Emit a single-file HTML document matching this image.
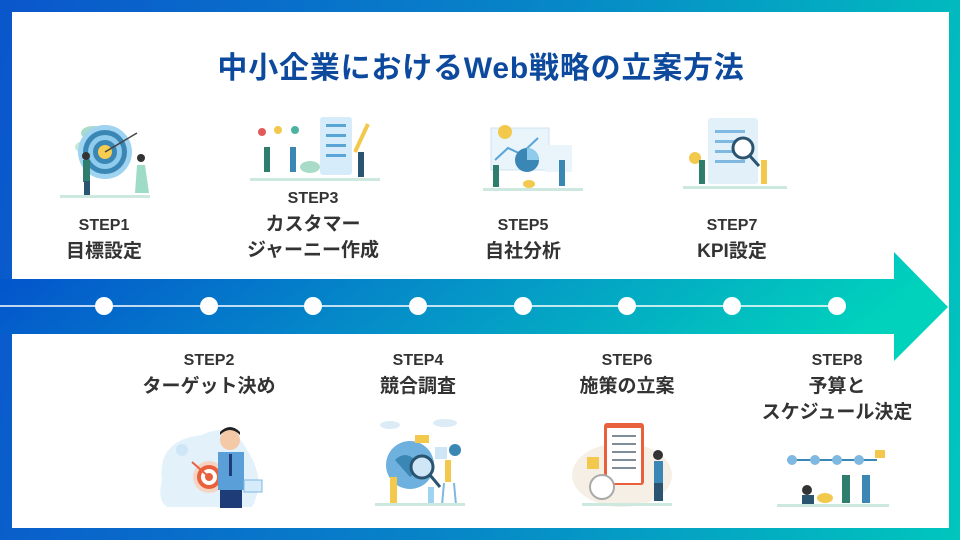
<!DOCTYPE html>
<html><head><meta charset="utf-8"><style>
*{margin:0;padding:0;box-sizing:border-box}
body{width:960px;height:540px;overflow:hidden;position:relative;font-family:"Liberation Sans","Noto Sans CJK JP",sans-serif;background:linear-gradient(100deg,#0a56cc 0%,#0784c8 50%,#00c6bd 100%)}
.panel{position:absolute;left:12px;top:12px;width:937px;height:516px;background:#fff}
h1{position:absolute;left:0;width:962px;top:43px;text-align:center;font-size:30px;font-weight:bold;color:#0d4a9e;letter-spacing:0.8px}
.lbl{position:absolute;width:220px;margin-left:-110px;text-align:center;color:#333;font-weight:bold}
.s{font-size:16px;line-height:27px;height:27px}
.j{font-size:19px;line-height:26px;height:26px}
svg.il{position:absolute}
</style></head><body>
<div class="panel"></div>
<h1>中小企業におけるWeb戦略の立案方法</h1>
<svg style="position:absolute;left:0;top:0" width="960" height="540">
<defs><linearGradient id="g" x1="0" y1="0" x2="1" y2="0.15"><stop offset="0" stop-color="#0350cc"/><stop offset="0.5" stop-color="#0590c8"/><stop offset="1" stop-color="#00d2bc"/></linearGradient></defs>
<path d="M0 279 H894 V252 L948 307 L894 361 V334 H0 Z" fill="url(#g)"/>
<line x1="0" y1="306" x2="836" y2="306" stroke="#fff" stroke-width="1.5"/>
<g fill="#fff"><circle cx="104" cy="306" r="9"/><circle cx="209" cy="306" r="9"/><circle cx="313" cy="306" r="9"/><circle cx="418" cy="306" r="9"/><circle cx="523" cy="306" r="9"/><circle cx="627" cy="306" r="9"/><circle cx="732" cy="306" r="9"/><circle cx="837" cy="306" r="9"/></g>
</svg>

<div class="lbl" style="left:104px;top:212px"><div class="s">STEP1</div><div class="j">目標設定</div></div>
<div class="lbl" style="left:313px;top:185px"><div class="s">STEP3</div><div class="j">カスタマー</div><div class="j">ジャーニー作成</div></div>
<div class="lbl" style="left:523px;top:212px"><div class="s">STEP5</div><div class="j">自社分析</div></div>
<div class="lbl" style="left:732px;top:212px"><div class="s">STEP7</div><div class="j">KPI設定</div></div>
<div class="lbl" style="left:209px;top:347px"><div class="s">STEP2</div><div class="j">ターゲット決め</div></div>
<div class="lbl" style="left:418px;top:347px"><div class="s">STEP4</div><div class="j">競合調査</div></div>
<div class="lbl" style="left:627px;top:347px"><div class="s">STEP6</div><div class="j">施策の立案</div></div>
<div class="lbl" style="left:837px;top:347px"><div class="s">STEP8</div><div class="j">予算と</div><div class="j">スケジュール決定</div></div>

<svg class="il" style="left:55px;top:115px" width="100" height="85">
<ellipse cx="38" cy="18" rx="12" ry="7" fill="#a8dcc8"/><ellipse cx="30" cy="32" rx="10" ry="6" fill="#c4e8d8"/>
<circle cx="50" cy="37" r="27" fill="#9fd3f2"/><circle cx="50" cy="37" r="22" fill="#3a86b5"/><circle cx="50" cy="37" r="17" fill="#8fcbec"/><circle cx="50" cy="37" r="12" fill="#3a86b5"/><circle cx="50" cy="37" r="7" fill="#f7cd50"/>
<line x1="50" y1="37" x2="82" y2="18" stroke="#444" stroke-width="1.5"/>
<rect x="28" y="45" width="7" height="22" fill="#2e7d6d"/><rect x="29" y="66" width="6" height="16" fill="#2a5470"/><circle cx="31" cy="41" r="4" fill="#333"/>
<path d="M82 50 L90 50 L94 78 L80 78 Z" fill="#9fdcc8"/><circle cx="86" cy="43" r="4" fill="#333"/>
<rect x="5" y="80" width="90" height="3" fill="#cde9df"/>
</svg>
<svg class="il" style="left:250px;top:112px" width="135" height="75">
<circle cx="12" cy="20" r="4" fill="#e35a5a"/><circle cx="28" cy="18" r="4" fill="#f2c94c"/><circle cx="45" cy="18" r="4" fill="#4bb3a0"/>
<rect x="70" y="5" width="32" height="58" rx="3" fill="#d6ecfa"/>
<g fill="#5aa5d8"><rect x="76" y="12" width="20" height="3"/><rect x="76" y="22" width="20" height="3"/><rect x="76" y="32" width="20" height="3"/><rect x="76" y="42" width="20" height="3"/></g>
<path d="M105 40 L118 12" stroke="#f2c94c" stroke-width="4"/>
<rect x="14" y="35" width="6" height="25" fill="#2e7d6d"/><rect x="40" y="35" width="6" height="25" fill="#3a86b5"/>
<rect x="108" y="40" width="6" height="25" fill="#2a5470"/>
<ellipse cx="60" cy="55" rx="10" ry="6" fill="#a8dcc8"/>
<rect x="0" y="66" width="130" height="3" fill="#cde9df"/>
</svg>
<svg class="il" style="left:483px;top:110px" width="100" height="84">
<rect x="8" y="18" width="58" height="42" fill="#e9f4fb" stroke="#cfe3f0"/>
<circle cx="22" cy="22" r="7" fill="#f2c94c"/>
<path d="M12 50 L25 38 L38 44 L55 28" stroke="#5aa5d8" stroke-width="2" fill="none"/>
<circle cx="44" cy="50" r="12" fill="#3a86b5"/><path d="M44 50 L44 38 A12 12 0 0 1 56 50 Z" fill="#8fcbec"/>
<rect x="62" y="35" width="27" height="27" fill="#eaf4fb"/>
<rect x="10" y="55" width="6" height="22" fill="#2e7d6d"/><rect x="76" y="50" width="6" height="26" fill="#3a86b5"/>
<ellipse cx="46" cy="74" rx="6" ry="4" fill="#f2c94c"/>
<rect x="0" y="78" width="100" height="3" fill="#cde9df"/>
</svg>
<svg class="il" style="left:683px;top:110px" width="104" height="84">
<rect x="25" y="8" width="50" height="66" rx="3" fill="#e2f0fa"/>
<g fill="#7fb8e0"><rect x="32" y="20" width="30" height="3"/><rect x="32" y="30" width="30" height="3"/><rect x="32" y="40" width="30" height="3"/><rect x="32" y="50" width="30" height="3"/></g>
<circle cx="60" cy="38" r="10" fill="#fff" stroke="#2a5470" stroke-width="3"/><line x1="67" y1="46" x2="76" y2="56" stroke="#2a5470" stroke-width="3"/>
<circle cx="12" cy="48" r="6" fill="#f2c94c"/>
<rect x="16" y="50" width="6" height="24" fill="#2e7d6d"/><rect x="78" y="50" width="6" height="24" fill="#f2c94c"/>
<rect x="0" y="76" width="104" height="3" fill="#cde9df"/>
</svg>
<svg class="il" style="left:152px;top:420px" width="118" height="92">
<path d="M10 60 Q5 20 50 15 Q80 0 95 30 Q115 60 100 87 L15 87 Q5 80 10 60Z" fill="#e3f1fb"/>
<circle cx="57" cy="57" r="16" fill="#f6d4c4"/><circle cx="57" cy="57" r="12" fill="#e8613c"/><circle cx="57" cy="57" r="8" fill="#fff"/><circle cx="57" cy="57" r="4" fill="#e8613c"/>
<line x1="57" y1="57" x2="40" y2="42" stroke="#e8613c" stroke-width="2"/>
<circle cx="78" cy="20" r="10" fill="#f3c9a8"/><path d="M68 15 Q78 5 88 15 L88 12 Q78 2 68 12Z" fill="#222"/>
<rect x="66" y="32" width="26" height="38" fill="#5a9fd8"/><rect x="77" y="34" width="3" height="22" fill="#1d3c78"/>
<rect x="68" y="70" width="22" height="18" fill="#1d3c78"/>
<rect x="92" y="60" width="18" height="12" fill="#d6ecfa" stroke="#7fb8e0"/>
<circle cx="30" cy="30" r="6" fill="#cfe6f7"/>
</svg>
<svg class="il" style="left:370px;top:415px" width="100" height="95">
<ellipse cx="20" cy="10" rx="10" ry="4" fill="#dcecf7"/><ellipse cx="75" cy="8" rx="12" ry="4" fill="#dcecf7"/>
<circle cx="40" cy="50" r="24" fill="#6fb1de"/><path d="M25 45 Q35 35 45 45 Q50 55 40 62Z" fill="#3a86b5"/>
<circle cx="52" cy="52" r="11" fill="#cfe6f7" stroke="#2a5470" stroke-width="3"/><line x1="60" y1="60" x2="70" y2="72" stroke="#2a5470" stroke-width="3"/>
<rect x="45" y="20" width="14" height="8" fill="#f2c94c"/><rect x="65" y="32" width="12" height="12" fill="#cfe6f7"/>
<circle cx="85" cy="35" r="6" fill="#3a86b5"/>
<rect x="20" y="62" width="7" height="28" fill="#f2c94c"/><rect x="75" y="45" width="6" height="22" fill="#f2c94c"/>
<path d="M74 68 L72 90 M84 68 L86 90" stroke="#7fb8e0" stroke-width="2"/>
<rect x="58" y="72" width="6" height="18" fill="#9fd3f2"/>
<rect x="5" y="88" width="90" height="3" fill="#cde9df"/>
</svg>
<svg class="il" style="left:572px;top:415px" width="110" height="95">
<ellipse cx="50" cy="60" rx="50" ry="32" fill="#f6efe6"/>
<rect x="32" y="8" width="40" height="62" rx="3" fill="#e8613c"/><rect x="35" y="13" width="34" height="55" fill="#fff"/>
<g fill="#7f8c99"><rect x="40" y="20" width="24" height="2"/><rect x="40" y="28" width="24" height="2"/><rect x="40" y="36" width="24" height="2"/><rect x="40" y="44" width="24" height="2"/><rect x="40" y="52" width="24" height="2"/></g>
<rect x="15" y="42" width="12" height="12" fill="#f2c94c"/>
<circle cx="30" cy="72" r="12" fill="#fff" stroke="#aaa" stroke-width="2"/>
<circle cx="86" cy="40" r="5" fill="#333"/><rect x="82" y="46" width="9" height="22" fill="#3a86b5"/><rect x="82" y="68" width="9" height="18" fill="#2a5470"/>
<rect x="10" y="88" width="90" height="3" fill="#cde9df"/>
</svg>
<svg class="il" style="left:777px;top:440px" width="115" height="70">
<line x1="10" y1="20" x2="100" y2="20" stroke="#3a86b5" stroke-width="2"/>
<g fill="#7fb8e0"><circle cx="15" cy="20" r="5"/><circle cx="38" cy="20" r="5"/><circle cx="60" cy="20" r="5"/><circle cx="82" cy="20" r="5"/></g>
<rect x="98" y="10" width="10" height="8" fill="#f2c94c"/>
<circle cx="30" cy="50" r="5" fill="#333"/><rect x="25" y="55" width="12" height="10" fill="#2a5470"/>
<ellipse cx="48" cy="58" rx="8" ry="5" fill="#f2c94c"/>
<rect x="65" y="35" width="8" height="28" fill="#2e7d6d"/><rect x="85" y="35" width="8" height="28" fill="#3a86b5"/>
<rect x="0" y="64" width="112" height="3" fill="#cde9df"/>
</svg>
</body></html>
